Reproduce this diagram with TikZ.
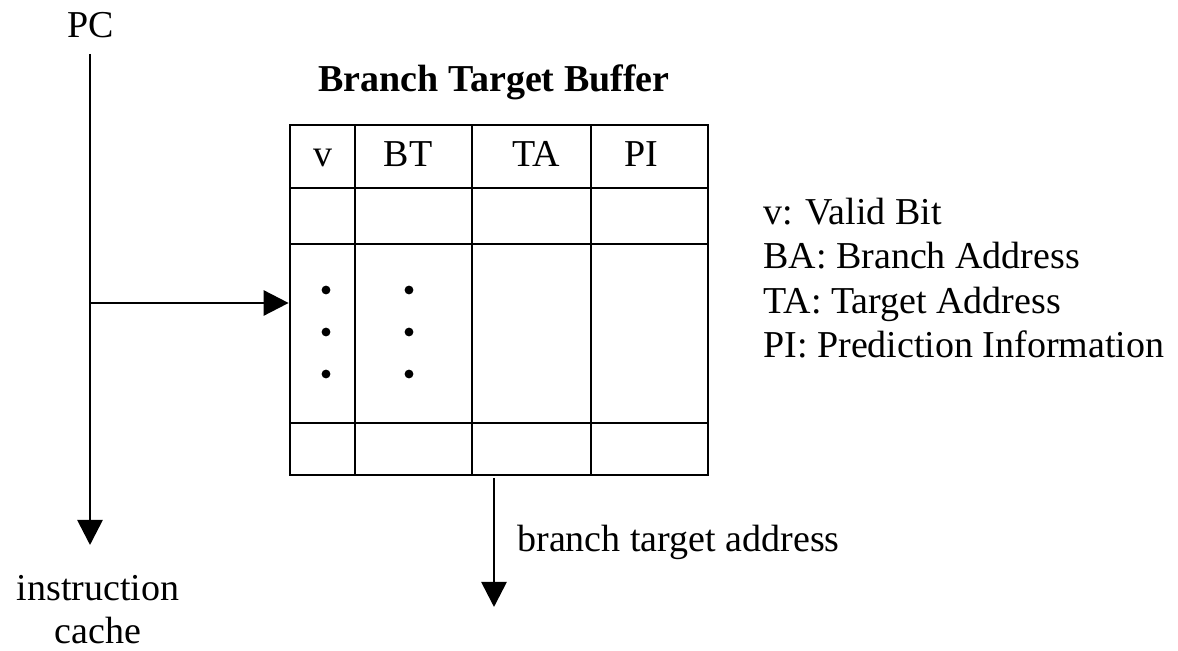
\documentclass[tikz,border=0pt]{standalone}
\usepackage{fontspec}
\setmainfont{Liberation Serif}
\usetikzlibrary{arrows.meta}
\tikzset{
  txt/.style={inner sep=0pt, font=\fontsize{19pt}{21.5pt}\selectfont},
  ttl/.style={inner sep=0pt, font=\fontsize{19pt}{21.5pt}\selectfont\bfseries},
  ln/.style={line width=1.35pt},
  arr/.style={line width=1.35pt, -{Triangle[length=12.5pt,width=12.5pt]}},
  dotc/.style={fill=black, draw=none},
}
\begin{document}
\begin{tikzpicture}[x=0.5pt,y=-0.5pt]
\useasboundingbox (0,0) rectangle (1178,651);
% labels
\node[txt, anchor=base] (pc) at (91,38) {PC};
\node[ttl, anchor=base] (title) at (494,92) {Branch Target Buffer};
% table
\node[draw, ln, minimum width=209pt, minimum height=175pt, inner sep=0pt] (btb) at (499,300) {};
\foreach \x in {355,472,591} \draw[ln] (\x,125) -- (\x,475);
\foreach \y in {188,244,423} \draw[ln] (290,\y) -- (708,\y);
\node[txt, anchor=base] (hv) at (323,167) {v};
\node[txt, anchor=base] (hbt) at (408,167) {BT};
\node[txt, anchor=base] (hta) at (536,167) {TA};
\node[txt, anchor=base] (hpi) at (641,167) {PI};
\foreach \x in {326,409} \foreach \y in {290,332,374} \fill[dotc] (\x,\y) circle (2.2pt);
% PC line
\coordinate (pctop) at (90,54);
\coordinate (pcbot) at (90,545);
\coordinate (tap) at (90,303);
\draw[arr] (pctop) -- (pcbot);
\draw[arr] (tap) -- (btb.west |- tap);
% output arrow
\coordinate (outtop) at (494,478);
\coordinate (outbot) at (494,607);
\draw[arr] (outtop) -- (outbot);
\node[txt, anchor=base west] (bta) at (517,552) {branch target address};
\node[txt, anchor=base, align=center] (ic) at (98,644) {instruction\\cache};
% legend
\node[txt, anchor=base west] (leg1) at (763,225) {v: Valid Bit};
\node[txt, anchor=base west] (leg2) at (763,269) {BA: Branch Address};
\node[txt, anchor=base west] (leg3) at (763,314) {TA: Target Address};
\node[txt, anchor=base west] (leg4) at (763,358) {PI: Prediction Information};
\end{tikzpicture}
\end{document}
